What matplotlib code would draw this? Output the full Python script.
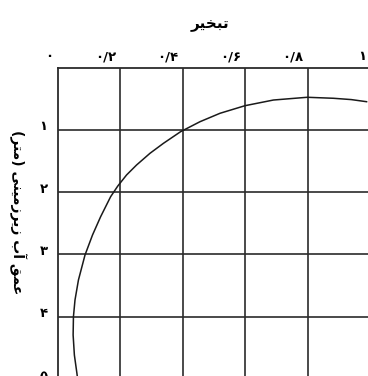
import matplotlib
matplotlib.use("Agg")
import matplotlib.pyplot as plt
from matplotlib.transforms import ScaledTranslation, blended_transform_factory

plt.rcParams['font.family'] = ['DejaVu Sans']

# evaporation ticks on top, depth ticks on the left (Persian digits)
x_ticks = [0.0, 0.2, 0.4, 0.6, 0.8, 1.0]
x_labels = ["\u06f0", "\u06f0/\u06f2", "\u06f0/\u06f4", "\u06f0/\u06f6", "\u06f0/\u06f8", "\u06f1"]
y_ticks = [1, 2, 3, 4, 5]
y_labels = ["\u06f1", "\u06f2", "\u06f3", "\u06f4", "\u06f5"]

# curve
evap = [0.989, 0.94, 0.883, 0.799, 0.691, 0.600, 0.520, 0.456, 0.394, 0.339,
        0.296, 0.253, 0.221, 0.193, 0.170, 0.138, 0.112, 0.088, 0.067, 0.056,
        0.051, 0.050, 0.054, 0.062, 0.069]
depth = [0.549, 0.515, 0.494, 0.478, 0.522, 0.613, 0.735, 0.870, 1.030, 1.217,
         1.377, 1.565, 1.725, 1.902, 2.074, 2.395, 2.689, 3.010, 3.411, 3.732,
         4.000, 4.294, 4.615, 4.904, 5.18]

# "تبخیر" and "عمق آب زیرزمینی (متر)" in shaped, visual order
title_txt = "\ufeae\ufef4\ufea8\ufe92\ufe97"
ylab_txt = ("(\ufeae\ufe98\ufee3) \ufef0\ufee8\ufef4\ufee3\ufeaf\ufeae\ufef3\ufeaf "
            "\ufe8f\ufe81 \ufed6\ufee4\ufecb")

W, H = 368, 376
fig = plt.figure(figsize=(W / 100, H / 100), dpi=100)
ax = fig.add_axes([57.5 / W, 1 - 379 / H, 312.5 / W, 311.5 / H])

ax.set_xlim(0, 1)
ax.set_ylim(5, 0)
gc = '#2b2b2b'
for xv in x_ticks[1:]:
    ax.axvline(xv, color=gc, lw=1.2)
for yv in y_ticks[:-1]:
    ax.axhline(yv, color=gc, lw=1.2)
ax.plot(evap, depth, color='#1a1a1a', lw=1.1, clip_on=True)

for s in ['right', 'bottom']:
    ax.spines[s].set_visible(False)
for s in ['top', 'left']:
    ax.spines[s].set_color(gc)
    ax.spines[s].set_linewidth(1.3)
ax.set_xticks([])
ax.set_yticks([])

tx = blended_transform_factory(ax.transData, ax.transAxes)
off = ScaledTranslation(-4 / 100, 11 / 100, fig.dpi_scale_trans)
for xv, lab in zip(x_ticks, x_labels):
    ax.text(xv, 1.0, lab, transform=tx + off, ha='right', va='center',
            fontsize=9.5, fontweight='bold', clip_on=False)

ty = blended_transform_factory(ax.transAxes, ax.transData)
off2 = ScaledTranslation(-10 / 100, 3 / 100, fig.dpi_scale_trans)
for yv, lab in zip(y_ticks, y_labels):
    ax.text(0.0, yv, lab, transform=ty + off2, ha='right', va='center',
            fontsize=9.5, fontweight='bold', clip_on=False)

fig.text(210 / W, 1 - 25 / H, title_txt, ha='center', va='center',
         fontsize=11, fontweight='bold')
fig.text(18 / W, 1 - 212 / H, ylab_txt, ha='center', va='center',
         rotation=-90, fontsize=10, fontweight='bold')

fig.savefig('out.png', dpi=100, facecolor='white')
